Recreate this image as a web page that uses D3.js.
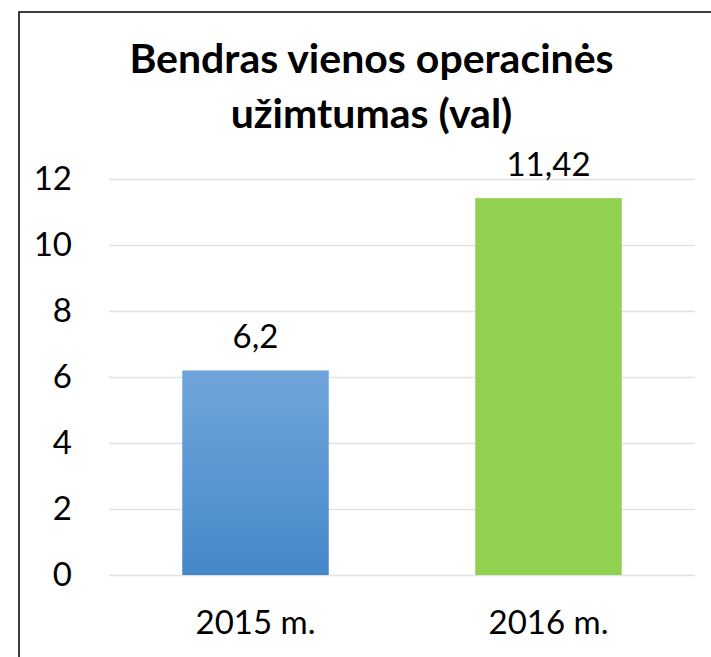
<!DOCTYPE html>
<html>
<head>
<meta charset="utf-8">
<script src="https://cdn.jsdelivr.net/npm/d3@7"></script>
<style>
  html, body { margin: 0; padding: 0; background: #ffffff; overflow: hidden; }
  svg { display: block; }
</style>
</head>
<body>
<script>
const titleLines = ["Bendras vienos operacinės", "užimtumas (val)"];
const categories = ["2015 m.", "2016 m."];
const values = [6.2, 11.42];
const valueLabels = ["6,2", "11,42"];
const yTicks = [0, 2, 4, 6, 8, 10, 12];

const W = 711, H = 657;
const svg = d3.select("body").append("svg").attr("width", W).attr("height", H);

const defs = svg.append("defs");
const grad = defs.append("linearGradient").attr("id", "blueGrad")
  .attr("x1", 0).attr("y1", 0).attr("x2", 0).attr("y2", 1);
grad.append("stop").attr("offset", "0%").attr("stop-color", "#70a5db");
grad.append("stop").attr("offset", "100%").attr("stop-color", "#4489c9");
const fills = ["url(#blueGrad)", "#92d050"];

// chart border (left and top edges only visible in the window)
svg.append("path").attr("d", `M19,${H + 5} V12 H${W + 5}`)
  .attr("fill", "none").attr("stroke", "#000").attr("stroke-width", 1.5);

const plot = { left: 109, right: 695, top: 179, bottom: 575 };
const x = d3.scaleBand().domain(categories).range([plot.left, plot.right])
  .paddingInner(0.5).paddingOuter(0.25);
const y = d3.scaleLinear().domain([0, 12]).range([plot.bottom, plot.top]);

const font = "Lato, 'Open Sans', sans-serif";
const fs = 33;

// title
svg.append("g").selectAll("text").data(titleLines).join("text")
  .attr("x", 371.5).attr("y", (d, i) => 73 + i * 55)
  .attr("text-anchor", "middle")
  .attr("font-family", font).attr("font-weight", "bold").attr("font-size", 41)
  .attr("fill", "#000").text(d => d);

// gridlines + y tick labels
const yAxis = d3.axisLeft(y).tickValues(yTicks).tickSize(-(plot.right - plot.left)).tickPadding(37)
  .tickFormat(d3.format("d"));
const gy = svg.append("g").attr("transform", `translate(${plot.left},0)`).call(yAxis);
gy.select(".domain").remove();
gy.selectAll(".tick line").attr("stroke", "#dde1e8").attr("stroke-width", 1.5);
gy.selectAll(".tick text").attr("font-family", font).attr("font-size", fs).attr("fill", "#000");

// bars
svg.append("g").selectAll("rect").data(values).join("rect")
  .attr("x", (d, i) => x(categories[i]))
  .attr("width", x.bandwidth())
  .attr("y", d => y(d))
  .attr("height", d => y(0) - y(d))
  .attr("fill", (d, i) => fills[i]);

// value labels
svg.append("g").selectAll("text").data(values).join("text")
  .attr("x", (d, i) => x(categories[i]) + x.bandwidth() / 2)
  .attr("y", d => y(d) - 22)
  .attr("text-anchor", "middle")
  .attr("font-family", font).attr("font-size", fs).attr("fill", "#000")
  .text((d, i) => valueLabels[i]);

// x axis labels
const xAxis = d3.axisBottom(x).tickSize(0).tickPadding(36);
const gx = svg.append("g").attr("transform", `translate(0,${plot.bottom})`).call(xAxis);
gx.select(".domain").remove();
gx.selectAll(".tick text").attr("font-family", font).attr("font-size", fs).attr("fill", "#000");
</script>
</body>
</html>
